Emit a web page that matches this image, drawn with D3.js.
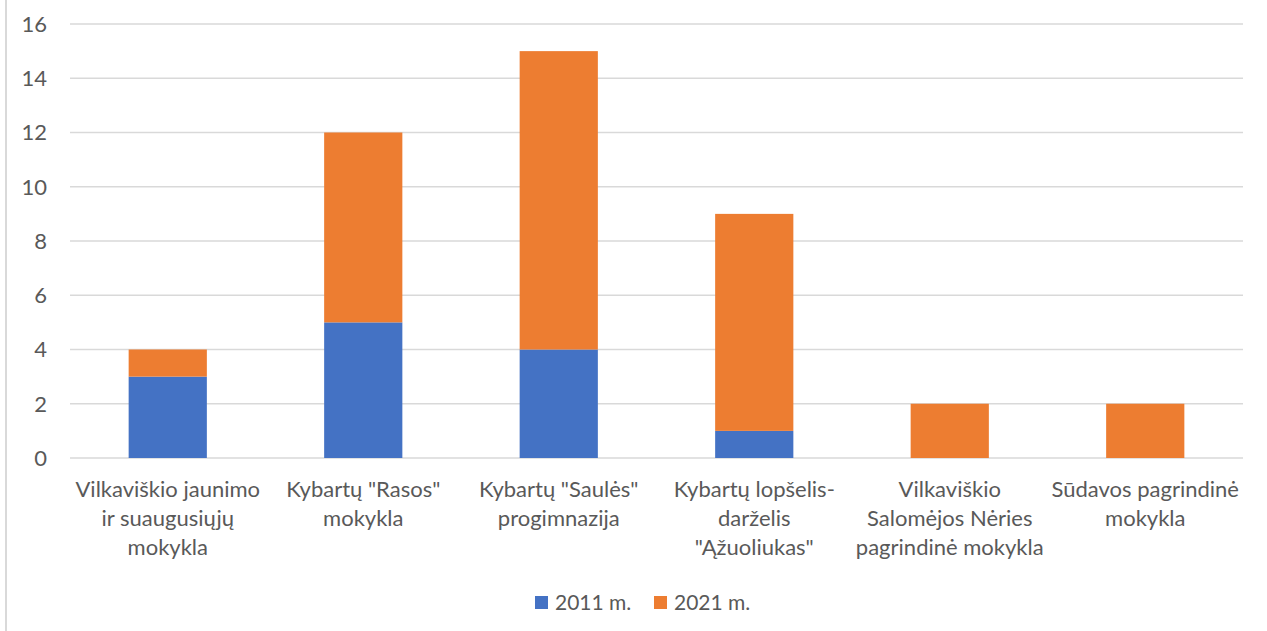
<!DOCTYPE html>
<html><head><meta charset="utf-8">
<script src="https://cdn.jsdelivr.net/npm/d3@7"></script>
<style>
html,body{margin:0;padding:0;background:#fff;}
text{font-family:Lato,"Open Sans",sans-serif;fill:#595959;}
</style></head>
<body>
<svg id="chart" width="1267" height="631"></svg>
<script>
const categories = [
  ["Vilkaviškio jaunimo", "ir suaugusiųjų", "mokykla"],
  ["Kybartų \"Rasos\"", "mokykla"],
  ["Kybartų \"Saulės\"", "progimnazija"],
  ["Kybartų lopšelis-", "darželis", "\"Ąžuoliukas\""],
  ["Vilkaviškio", "Salomėjos Nėries", "pagrindinė mokykla"],
  ["Sūdavos pagrindinė", "mokykla"]
];
const seriesNames = ["2011 m.", "2021 m."];
const values2011 = [3, 5, 4, 1, 0, 0];
const values2021 = [1, 7, 11, 8, 2, 2];
const yTicks = [0, 2, 4, 6, 8, 10, 12, 14, 16];
const colors = ["#4472C4", "#ED7D31"];

const svg = d3.select("#chart");
const W = 1267, H = 631;
const m = {left: 70, right: 24, top: 24, bottom: 173};

svg.append("rect").attr("x", 5).attr("y", -5).attr("width", 2).attr("height", H + 10).attr("fill", "#d9d9d9");

const x = d3.scaleBand().domain(d3.range(categories.length))
  .range([m.left, W - m.right]).paddingInner(0.6).paddingOuter(0.3);
const y = d3.scaleLinear().domain([0, 16]).range([H - m.bottom, m.top]);

// gridlines
svg.append("g").selectAll("line").data(yTicks).join("line")
  .attr("x1", m.left).attr("x2", W - m.right)
  .attr("y1", d => y(d)).attr("y2", d => y(d))
  .attr("stroke", "#d9d9d9").attr("stroke-width", 1.3);

// y tick labels
svg.append("g").selectAll("text").data(yTicks).join("text")
  .attr("x", 47).attr("y", d => y(d)).attr("dy", "0.36em")
  .attr("text-anchor", "end").style("font-size", "22px").text(d => d);

const rows = categories.map((c, i) => ({i, a: values2011[i], b: values2021[i]}));
const stack = d3.stack().keys(["a", "b"])(rows);

svg.append("g").selectAll("g").data(stack).join("g")
  .attr("fill", (d, k) => colors[k])
  .selectAll("rect").data(d => d).join("rect")
  .attr("x", d => x(d.data.i)).attr("width", x.bandwidth())
  .attr("y", d => y(d[1])).attr("height", d => y(d[0]) - y(d[1]));

// category labels
const lab = svg.append("g").selectAll("text").data(categories).join("text")
  .attr("text-anchor", "middle").style("font-size", "22px")
  .attr("transform", (d, i) => `translate(${x(i) + x.bandwidth() / 2},${y(0) + 39})`);
lab.selectAll("tspan").data(d => d).join("tspan")
  .attr("x", 0).attr("y", (d, j) => j * 29).text(d => d);

// legend
const legX = [535, 654];
const leg = svg.append("g").selectAll("g").data(seriesNames).join("g")
  .attr("transform", (d, i) => `translate(${legX[i]},596)`);
leg.append("rect").attr("width", 13).attr("height", 13).attr("fill", (d, i) => colors[i]);
leg.append("text").attr("x", 20).attr("y", 6.5).attr("dy", "0.36em")
  .style("font-size", "21px").text(d => d);
</script>
</body></html>
